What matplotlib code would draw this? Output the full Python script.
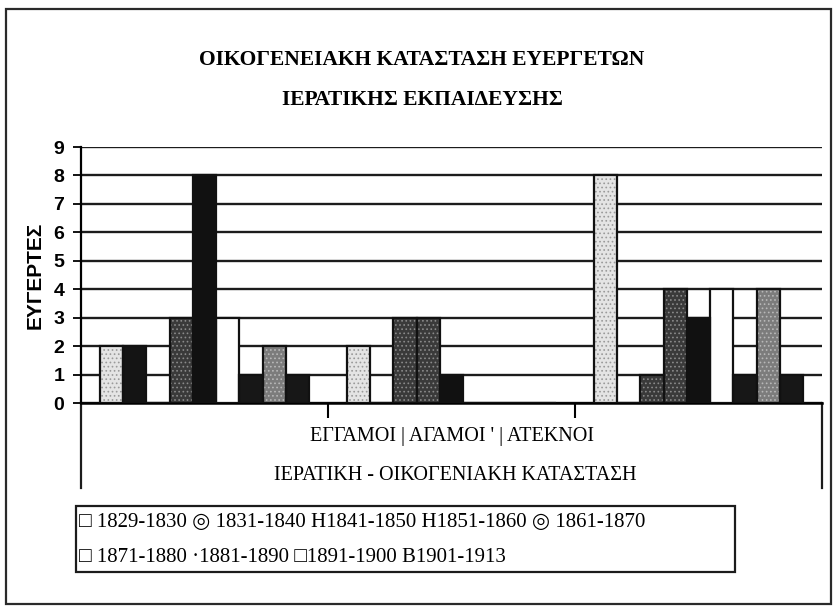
import matplotlib
matplotlib.use("Agg")
import matplotlib.pyplot as plt
import numpy as np
from matplotlib.patches import Rectangle

# δεδομένα: ευεργέτες ανά οικογενειακή κατάσταση και δεκαετία
categories = ["ΕΓΓΑΜΟΙ", "ΑΓΑΜΟΙ '", "ΑΤΕΚΝΟΙ"]
periods = ["1829-1830", "1831-1840", "1841-1850", "1851-1860", "1861-1870",
           "1871-1880", "1881-1890", "1891-1900", "1901-1913"]
counts = [
    [2, 2, 8],   # 1829-1830
    [2, 0, 0],   # 1831-1840
    [0, 3, 1],   # 1841-1850
    [3, 3, 4],   # 1851-1860
    [8, 1, 3],   # 1861-1870
    [3, 0, 4],   # 1871-1880
    [1, 0, 1],   # 1881-1890
    [2, 0, 4],   # 1891-1900
    [1, 0, 1],   # 1901-1913
]
legend_marks = ["□ ", "◎ ", "H", "H", "◎ ", "□ ", "·", "□", "B"]
yticks = list(range(0, 10))

title = "ΟΙΚΟΓΕΝΕΙΑΚΗ ΚΑΤΑΣΤΑΣΗ ΕΥΕΡΓΕΤΩΝ\nΙΕΡΑΤΙΚΗΣ ΕΚΠΑΙΔΕΥΣΗΣ"
ylabel = "ΕΥΓΕΡΤΕΣ"
xlabel = "ΙΕΡΑΤΙΚΗ - ΟΙΚΟΓΕΝΙΑΚΗ ΚΑΤΑΣΤΑΣΗ"

# (γέμισμα, χρώμα κουκκίδων ή None)
styles = [
    ("#e4e4e4", "#9a9a9a"),
    ("#141414", None),
    ("#3a3a3a", "#8a8a8a"),
    ("#3a3a3a", "#8a8a8a"),
    ("#111111", None),
    ("#ffffff", None),
    ("#171717", None),
    ("#7c7c7c", "#b8b8b8"),
    ("#171717", None),
]

SERIF = ["Liberation Serif", "DejaVu Serif"]
plt.rcParams["hatch.linewidth"] = 0.7

W, H = 835, 608
fig = plt.figure(figsize=(W / 100, H / 100), dpi=100)
fig.patch.set_facecolor("white")

ax = fig.add_axes([81 / W, 1 - 403 / H, (822 - 81) / W, (403 - 147) / H])
x = np.arange(len(categories))
n = len(periods)
bw = 0.85 / n
for i, (vals, (fc, dot)) in enumerate(zip(counts, styles)):
    pos = x - 0.425 + bw * (i + 0.5)
    if dot:
        ax.bar(pos, vals, bw, color=fc, hatch="....", edgecolor=dot,
               linewidth=0, zorder=2)
    else:
        ax.bar(pos, vals, bw, color=fc, linewidth=0, zorder=2)
    ax.bar(pos, vals, bw, fill=False, edgecolor="#111111", linewidth=1.6,
           zorder=3)

ax.set_xlim(-0.5, 2.5)
ax.set_ylim(0, 9)
ax.set_yticks(yticks)
ax.set_yticklabels([str(t) for t in yticks], fontsize=14, fontweight="bold",
                   family="Liberation Sans")
ax.tick_params(axis="y", direction="out", length=6, width=1.3, pad=6)
ax.set_xticks([])
ax.set_xticks([0.5, 1.5], minor=True)
ax.tick_params(axis="x", which="minor", direction="out", length=11, width=1.5)
ax.yaxis.grid(True, color="#1c1c1c", linewidth=1.7)
ax.set_axisbelow(True)
for s in ("top", "right"):
    ax.spines[s].set_visible(False)
ax.spines["left"].set_linewidth(1.6)
ax.spines["bottom"].set_linewidth(1.8)

# κάθετες γραμμές κάτω από τον άξονα
drop = -(488 - 403) / (403 - 147)
for xa in (0, 1):
    ax.plot([xa, xa], [0, drop], transform=ax.transAxes, color="#1c1c1c",
            lw=1.6, clip_on=False)

ax.set_ylabel(ylabel, fontsize=15, fontweight="bold",
              family="Liberation Sans", labelpad=6)

fig.text(422 / W, 1 - 80 / H, title, ha="center", va="center",
         fontsize=15.5, fontweight="bold", family=SERIF, linespacing=2.35)

fig.text(452 / W, 1 - 437 / H, " | ".join(categories), ha="center",
         va="center", fontsize=14.5, family=SERIF)
fig.text(455 / W, 1 - 476 / H, xlabel, ha="center", va="center",
         fontsize=14.5, family=SERIF)

# υπόμνημα σε πλαίσιο, δύο γραμμές κειμένου
fig.add_artist(Rectangle((76 / W, 1 - 572 / H), (735 - 76) / W,
                         (572 - 506) / H, transform=fig.transFigure,
                         fill=False, edgecolor="#1c1c1c", lw=1.6))
items = [m + p for m, p in zip(legend_marks, periods)]
fig.text(79 / W, 1 - 522 / H, " ".join(items[:5]), ha="left", va="center",
         fontsize=15, family=SERIF)
fig.text(79 / W, 1 - 557 / H, " ".join(items[5:]), ha="left", va="center",
         fontsize=15, family=SERIF)

# εξωτερικό πλαίσιο
fig.add_artist(Rectangle((6 / W, 1 - 604 / H), (831 - 6) / W,
                         (604 - 9) / H, transform=fig.transFigure,
                         fill=False, edgecolor="#2a2a2a", lw=1.6))

fig.savefig("out.png", dpi=100, facecolor="white")
